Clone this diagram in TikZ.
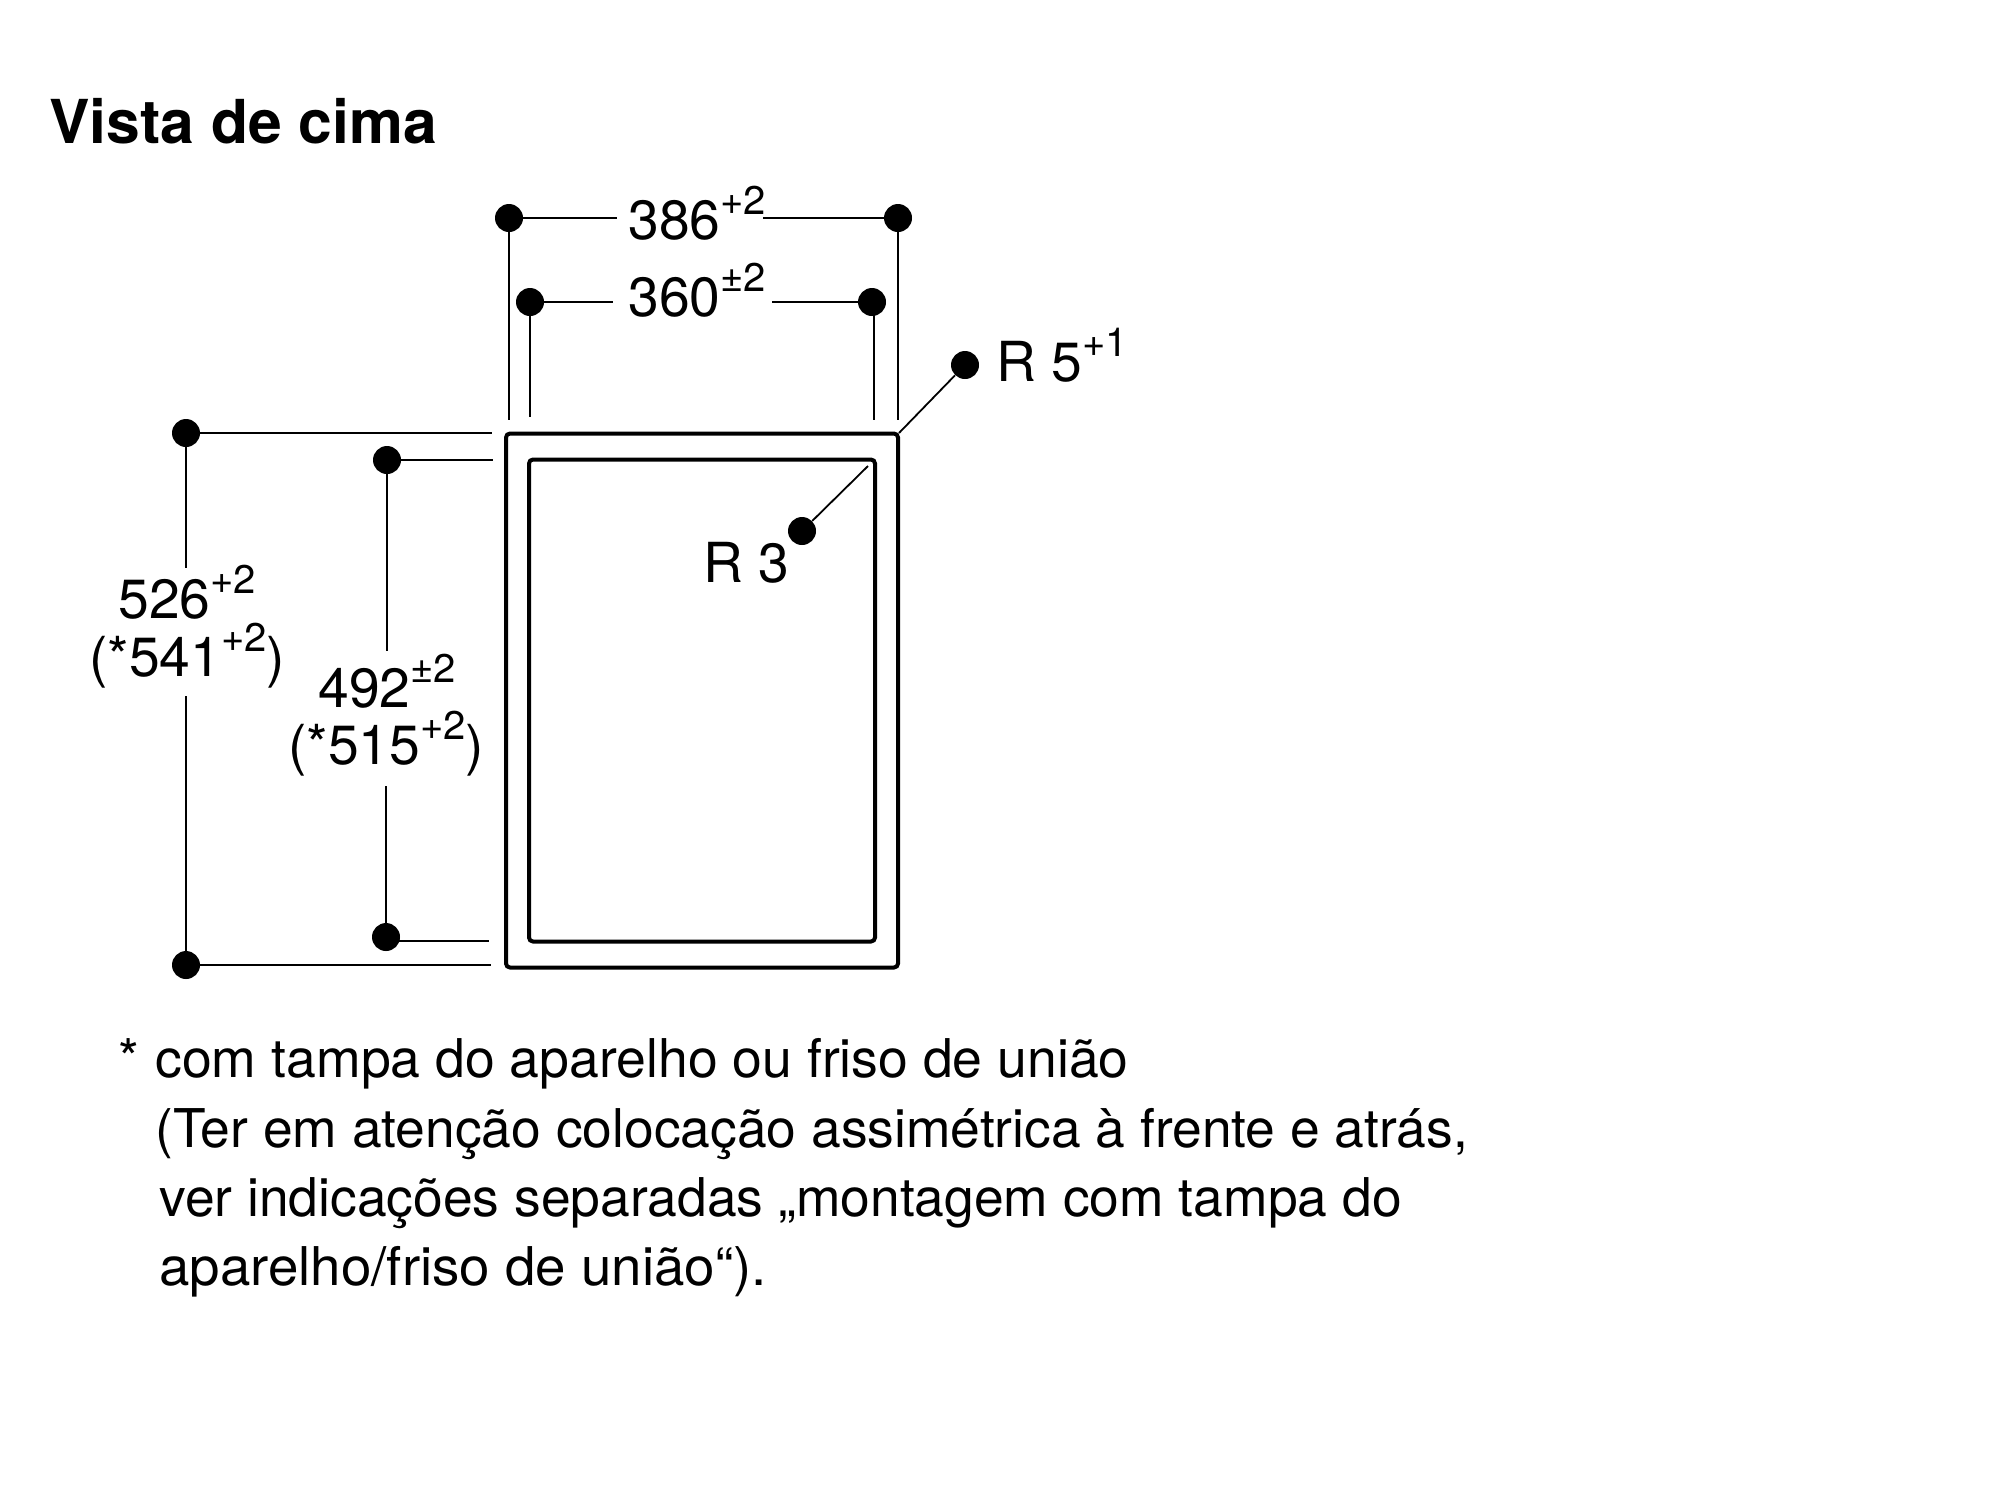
\documentclass[tikz,border=0pt]{standalone}
\usepackage{fontspec}
\setmainfont{TeX Gyre Heros}
\newcommand{\Sp}[1]{\raisebox{12.3pt}{\fontsize{20}{22}\selectfont #1}}
\tikzset{
  dimdot/.style={circle,fill=black,inner sep=0pt,minimum size=14pt},
  thinline/.style={line width=0.9pt,black},
  lab/.style={anchor=base west,inner sep=0pt,font=\fontsize{27.6}{30}\selectfont},
  bodytext/.style={anchor=base west,inner sep=0pt,font=\fontsize{26.7}{30}\selectfont},
  titletext/.style={anchor=base west,inner sep=0pt,font=\fontsize{30.3}{34}\selectfont\bfseries},
  frame/.style={line width=2pt,rounded corners=2pt,black}
}
\begin{document}
\begin{tikzpicture}[x=0.5pt,y=-0.5pt]
\useasboundingbox[fill=white] (0,0) rectangle (2000,1496);
\node[titletext] (title) at (49,143) {Vista de cima};
% frames
\node[frame,draw,minimum width=196pt,minimum height=267pt,inner sep=0pt] (outer) at (702,700.5) {};
\node[frame,draw,minimum width=173pt,minimum height=241pt,inner sep=0pt] (inner) at (702,700.5) {};
% dots
\node[dimdot] (a1) at (509,218) {};
\node[dimdot] (a2) at (898,218) {};
\node[dimdot] (b1) at (530,302) {};
\node[dimdot] (b2) at (872,302) {};
\node[dimdot] (r5) at (965,365) {};
\node[dimdot] (r3) at (802,531) {};
\node[dimdot] (c1) at (186,433) {};
\node[dimdot] (c2) at (186,965) {};
\node[dimdot] (e1) at (387,460) {};
\node[dimdot] (e2) at (386,937) {};
% free ends
\coordinate (a1r) at (617,218);
\coordinate (a2l) at (763,218);
\coordinate (b1r) at (613,302);
\coordinate (b2l) at (772,302);
\coordinate (a1d) at (509,420);
\coordinate (b1d) at (530,417);
\coordinate (b2d) at (874,420);
\coordinate (a2d) at (898,420);
\coordinate (r5e) at (899,433);
\coordinate (r3e) at (868,466);
\coordinate (c1r) at (492,433);
\coordinate (c2r) at (491,965);
\coordinate (e1r) at (493,460);
\coordinate (e2r) at (489,941);
\coordinate (c1d) at (186,568);
\coordinate (c2u) at (186,696);
\coordinate (e1d) at (387,651);
\coordinate (e2u) at (386,786);
\draw[thinline] (a1) -- (a1r);
\draw[thinline] (a2) -- (a2l);
\draw[thinline] (b1) -- (b1r);
\draw[thinline] (b2) -- (b2l);
\draw[thinline] (a1) -- (a1d);
\draw[thinline] (a2) -- (a2d);
\draw[thinline] (b1) -- (b1d);
\draw[thinline] (b2d |- b2) -- (b2d);
\draw[thinline] (r5) -- (r5e);
\draw[thinline] (r3) -- (r3e);
\draw[thinline] (c1) -- (c1r);
\draw[thinline] (c2) -- (c2r);
\draw[thinline] (e1) -- (e1r);
\draw[thinline] (e2 |- e2r) -- (e2r);
\draw[thinline] (c1) -- (c1d);
\draw[thinline] (c2) -- (c2u);
\draw[thinline] (e1) -- (e1d);
\draw[thinline] (e2) -- (e2u);
% labels
\node[lab] (l386) at (628,239) {386\Sp{+2}};
\node[lab] (l360) at (628,316) {360\Sp{±2}};
\node[lab] (lr5) at (996,381) {R 5\Sp{+1}};
\node[lab] (lr3) at (703,582) {R 3};
\node[lab] (l526) at (118,618) {526\Sp{+2}};
\node[lab] (l541) at (89,676) {(*541\Sp{+2})};
\node[lab] (l492) at (318,707) {492\Sp{±2}};
\node[lab] (l515) at (288,764) {(*515\Sp{+2})};
% note
\node[bodytext] (n0) at (118,1077) {*};
\node[bodytext] (n1) at (155,1077) {\scalebox{1.003}[1]{com tampa do aparelho ou friso de união}};
\node[bodytext] (n2) at (155,1147) {(Ter em atenção colocação assimétrica à frente e atrás,};
\node[bodytext] (n3) at (159,1216) {ver indicações separadas „montagem com tampa do};
\node[bodytext] (n4) at (159,1285) {\scalebox{1.024}[1]{aparelho/friso de união“).}};
\end{tikzpicture}
\end{document}
